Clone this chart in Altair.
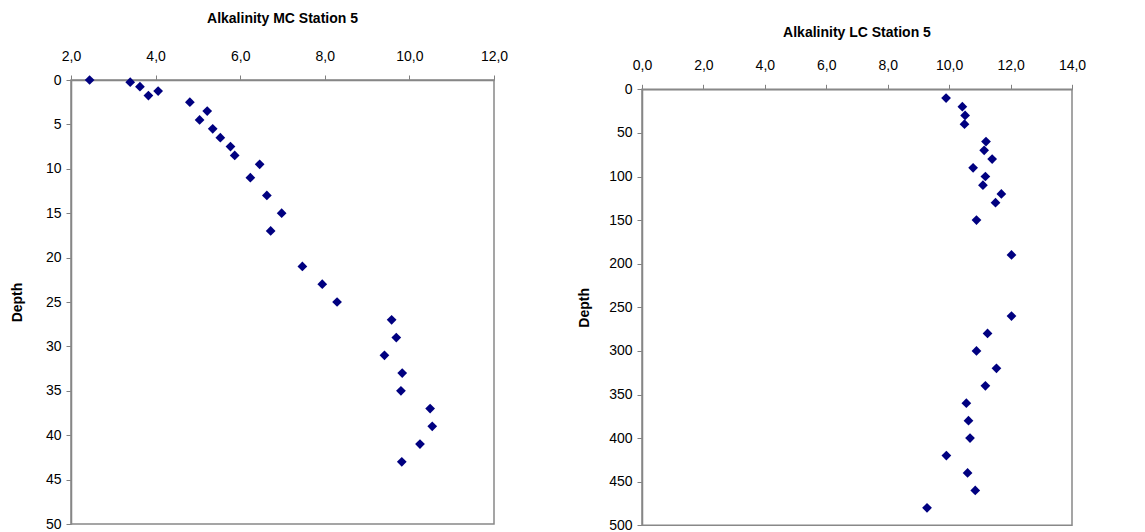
import altair as alt
import pandas as pd

mc_alk = [2.44, 3.40, 3.63, 3.83, 4.06, 4.81, 5.22, 5.04, 5.35, 5.53, 5.77, 5.87, 6.46, 6.24,
          6.63, 6.98, 6.72, 7.47, 7.94, 8.29, 9.58, 9.69, 9.41, 9.83, 9.80, 10.49, 10.54, 10.25, 9.82]
mc_depth = [0, 0.25, 0.75, 1.75, 1.25, 2.5, 3.5, 4.5, 5.5, 6.5, 7.5, 8.5, 9.5, 11, 13, 15, 17,
            21, 23, 25, 27, 29, 31, 33, 35, 37, 39, 41, 43]

lc_alk = [9.90, 10.43, 10.52, 10.50, 11.20, 11.14, 11.40, 10.78, 11.18, 11.10, 11.70, 11.51, 10.89,
          12.03, 12.03, 11.25, 10.89, 11.54, 11.18, 10.56, 10.63, 10.68, 9.91, 10.60, 10.85, 9.28]
lc_depth = [10, 20, 30, 40, 60, 70, 80, 90, 100, 110, 120, 130, 150, 190, 260, 280, 300, 320,
            340, 360, 380, 400, 420, 440, 460, 480]

mc_xticks = [2, 4, 6, 8, 10, 12]
mc_yticks = [0, 5, 10, 15, 20, 25, 30, 35, 40, 45, 50]
lc_xticks = [0, 2, 4, 6, 8, 10, 12, 14]
lc_yticks = [0, 50, 100, 150, 200, 250, 300, 350, 400, 450, 500]

mc_title = "Alkalinity MC Station 5"
lc_title = "Alkalinity LC  Station 5"

FONT = "Liberation Sans"
COLOR = "#000080"
FRAME = "#888888"
LBL = "replace(format(datum.value, '.1f'), '.', ',')"

mc = pd.DataFrame({"alk": mc_alk, "depth": mc_depth})
lc = pd.DataFrame({"alk": lc_alk, "depth": lc_depth})


def panel(df, xticks, yticks, title, w, h, top, title_y, ytitle_x):
    # top: vertical inset of the plot frame inside the panel
    one = pd.DataFrame({"t": [title]})
    frame = alt.Chart(one).mark_rect(
        fillOpacity=0, stroke=FRAME, strokeWidth=1.5
    ).encode(x=alt.value(0), x2=alt.value(w), y=alt.value(top), y2=alt.value(h))
    pts = alt.Chart(df).mark_point(
        shape="diamond", filled=True, size=95, color=COLOR, opacity=1
    ).encode(
        x=alt.X("alk:Q",
                scale=alt.Scale(domain=[xticks[0], xticks[-1]], nice=False, zero=False),
                axis=alt.Axis(orient="top", values=xticks, labelExpr=LBL, title=None,
                              grid=False, tickSize=5, labelPadding=12, labelFlush=False,
                              offset=-top)),
        y=alt.Y("depth:Q",
                scale=alt.Scale(domain=[yticks[0], yticks[-1]], range=[top, h], nice=False),
                axis=alt.Axis(values=yticks, title="Depth", grid=False, tickSize=5,
                              labelPadding=5, labelFlush=False, titleX=ytitle_x,
                              titleY=(top + h) / 2, titleBaseline="middle", titleAngle=270)),
    )
    ttl = alt.Chart(one).mark_text(
        font=FONT, fontSize=14, fontWeight="bold", color="black",
        align="center", baseline="middle"
    ).encode(text="t:N", x=alt.value(w / 2), y=alt.value(title_y))
    return alt.layer(frame, pts, ttl).properties(width=w, height=h)


left = panel(mc, mc_xticks, mc_yticks, mc_title, 423, 444, 0, -61, -54)
right = panel(lc, lc_xticks, lc_yticks, lc_title, 430, 445.3, 9.3, -47, -58)

chart = alt.hconcat(left, right, spacing=69).properties(
    padding={"left": 10, "top": 12, "right": 5, "bottom": 5},
    background="white",
).configure_view(
    strokeWidth=0
).configure_axis(
    domainColor="#808080", tickColor="#808080", domainWidth=1.5,
    labelFont=FONT, labelFontSize=14, labelColor="#000000",
    titleFont=FONT, titleFontSize=14, titleFontWeight="bold", titleColor="#000000",
)

chart.save("out.html", embed_options={"renderer": "svg", "actions": False})
